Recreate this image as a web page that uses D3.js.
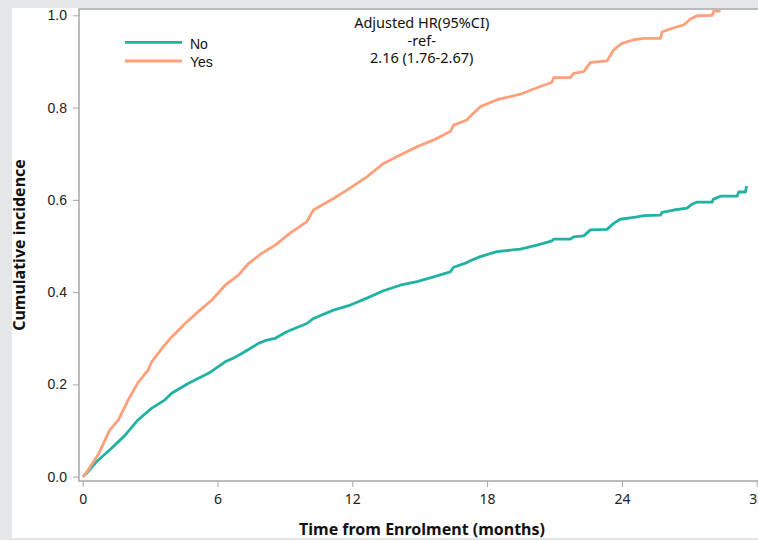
<!DOCTYPE html>
<html>
<head>
<meta charset="utf-8">
<script src="https://cdn.jsdelivr.net/npm/d3@7/dist/d3.min.js"></script>
<style>
  html, body { margin: 0; padding: 0; background: #e5e6e8; }
  #chart { width: 758px; height: 540px; }
</style>
</head>
<body>
<div id="chart"></div>
<script>
// months since enrolment / cumulative incidence
var timeNo = [0, 0.16, 0.62, 1.2, 1.87, 2.46, 3.06, 3.65, 3.96, 4.69, 5.6, 6.34, 6.71, 7.08, 7.45, 7.82, 8.19, 8.57, 9.08, 9.98, 10.27, 11.16, 11.91, 12.65, 13.39, 14.13, 14.88, 15.62, 16.36, 16.51, 17.1, 17.25, 17.7, 18.44, 19.48, 20.22, 20.89, 20.96, 21.71, 21.85, 22.3, 22.6, 23.34, 23.63, 23.93, 24.68, 24.97, 25.72, 25.79, 26.31, 26.9, 27.13, 27.35, 28.02, 28.06, 28.39, 29.13, 29.2, 29.5, 29.55];
var cumNo = [0, 0.007, 0.033, 0.058, 0.089, 0.123, 0.148, 0.166, 0.181, 0.202, 0.224, 0.249, 0.257, 0.267, 0.278, 0.289, 0.296, 0.3, 0.314, 0.332, 0.343, 0.361, 0.372, 0.387, 0.403, 0.415, 0.423, 0.433, 0.444, 0.454, 0.464, 0.468, 0.477, 0.488, 0.493, 0.502, 0.511, 0.515, 0.515, 0.52, 0.522, 0.535, 0.536, 0.549, 0.558, 0.563, 0.566, 0.567, 0.573, 0.578, 0.582, 0.591, 0.595, 0.595, 0.601, 0.608, 0.608, 0.617, 0.617, 0.63];

var timeYes = [0, 0.1, 0.69, 1.2, 1.59, 2.02, 2.46, 2.91, 3.07, 3.59, 3.96, 4.56, 5.22, 5.75, 6.34, 6.93, 7.38, 7.97, 8.34, 8.57, 9.23, 9.98, 10.27, 11.16, 11.76, 12.65, 13.39, 14.13, 14.88, 15.62, 16.36, 16.51, 17.1, 17.25, 17.7, 18.44, 19.48, 20.22, 20.89, 20.96, 21.71, 21.85, 22.3, 22.6, 23.34, 23.63, 24.0, 24.53, 24.97, 25.72, 25.79, 26.31, 26.75, 27.05, 27.35, 28.02, 28.09, 28.39];
var cumYes = [0, 0.004, 0.048, 0.101, 0.123, 0.166, 0.204, 0.231, 0.249, 0.282, 0.303, 0.332, 0.361, 0.383, 0.415, 0.437, 0.462, 0.484, 0.495, 0.502, 0.528, 0.553, 0.578, 0.603, 0.621, 0.65, 0.679, 0.697, 0.715, 0.73, 0.748, 0.762, 0.773, 0.781, 0.802, 0.817, 0.829, 0.843, 0.855, 0.865, 0.865, 0.874, 0.878, 0.898, 0.901, 0.925, 0.939, 0.947, 0.95, 0.95, 0.964, 0.973, 0.979, 0.992, 0.999, 1.0, 1.009, 1.009];

var groups = ['No', 'Yes'];
var colors = ['#22b2a3', '#ffa07a'];
var xTicks = [0, 6, 12, 18, 24, 30];
var yTicks = [0, 0.2, 0.4, 0.6, 0.8, 1.0];
var hrLines = ['Adjusted HR(95%CI)', '-ref-', '2.16 (1.76-2.67)'];

var svg = d3.select('#chart').append('svg').attr('width', 758).attr('height', 540);

// white panel
svg.append('rect').attr('x', 12).attr('y', 8).attr('width', 746).attr('height', 530).attr('fill', '#fff');

var frame = { left: 79, top: 9, right: 758, bottom: 481 };
var x = d3.scaleLinear().domain([0, 30]).range([82.7, 756.7]);
var y = d3.scaleLinear().domain([0, 1]).range([476.7, 15.3]);

svg.append('clipPath').attr('id', 'plot-clip').append('rect')
  .attr('x', frame.left).attr('y', frame.top)
  .attr('width', frame.right - frame.left).attr('height', frame.bottom - frame.top);

// y axis
var yAxis = svg.append('g').attr('transform', 'translate(' + frame.left + ',0)')
  .call(d3.axisLeft(y).tickValues(yTicks).tickFormat(d3.format('.1f')).tickSize(6).tickSizeOuter(0));
yAxis.select('.domain').remove();
yAxis.selectAll('line').attr('stroke', '#a4a7ab');
yAxis.selectAll('text').attr('x', -12).attr('font-family', 'Liberation Sans, Arial, sans-serif')
  .attr('font-size', 14).attr('fill', '#222');

// x axis
var xAxis = svg.append('g').attr('transform', 'translate(0,' + frame.bottom + ')')
  .call(d3.axisBottom(x).tickValues(xTicks).tickSize(6).tickSizeOuter(0));
xAxis.select('.domain').remove();
xAxis.selectAll('line').attr('stroke', '#a4a7ab');
xAxis.selectAll('text').attr('y', 13).attr('font-family', 'Noto Sans, sans-serif')
  .attr('font-size', 14).attr('fill', '#222');

// frame lines
svg.append('path')
  .attr('d', 'M' + frame.right + ',' + frame.top + 'H' + frame.left + 'V' + frame.bottom + 'H' + frame.right)
  .attr('fill', 'none').attr('stroke', '#a4a7ab').attr('stroke-width', 1.5);

// curves
var line = d3.line().x(function (d) { return x(d[0]); }).y(function (d) { return y(d[1]); });
var series = [d3.zip(timeNo, cumNo), d3.zip(timeYes, cumYes)];
svg.append('g').attr('clip-path', 'url(#plot-clip)').selectAll('path')
  .data(series).enter().append('path')
  .attr('d', line)
  .attr('fill', 'none')
  .attr('stroke', function (d, i) { return colors[i]; })
  .attr('stroke-width', 2.8)
  .attr('stroke-linejoin', 'round');

// legend
var legend = svg.append('g').selectAll('g').data(groups).enter().append('g')
  .attr('transform', function (d, i) { return 'translate(125,' + (42.3 + i * 18.7) + ')'; });
legend.append('line').attr('x1', 0).attr('x2', 57)
  .attr('stroke', function (d, i) { return colors[i]; }).attr('stroke-width', 2.8);
legend.append('text').attr('x', 65).attr('y', 1.5).attr('dy', '0.35em')
  .attr('font-family', 'Liberation Sans, Arial, sans-serif').attr('font-size', 14).attr('fill', '#111')
  .text(function (d) { return d; });

// hazard ratio note
svg.append('g').selectAll('text').data(hrLines).enter().append('text')
  .attr('x', 421.7).attr('y', function (d, i) { return 28.3 + i * 17.4; })
  .attr('text-anchor', 'middle')
  .attr('font-family', 'Noto Sans, sans-serif').attr('font-size', 14.5).attr('fill', '#111')
  .text(function (d) { return d; });

// axis titles
svg.append('text').attr('x', 422).attr('y', 535).attr('text-anchor', 'middle')
  .attr('font-family', 'Noto Sans, sans-serif').attr('font-size', 16).attr('font-weight', 'bold')
  .attr('fill', '#111').text('Time from Enrolment (months)');
svg.append('text').attr('transform', 'translate(25,245) rotate(-90)').attr('text-anchor', 'middle')
  .attr('font-family', 'Noto Sans, sans-serif').attr('font-size', 16).attr('font-weight', 'bold')
  .attr('fill', '#111').text('Cumulative incidence');
</script>
</body>
</html>
